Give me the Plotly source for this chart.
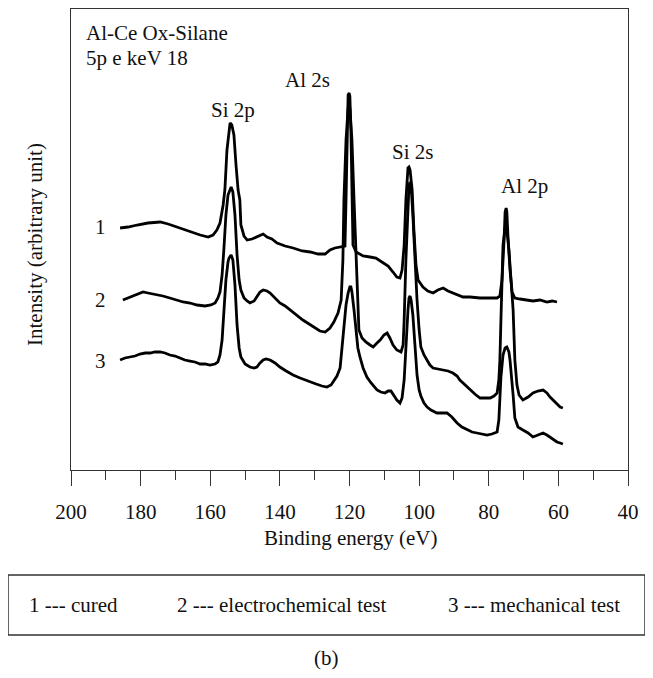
import plotly.graph_objects as go

# ---- data: binding energy (eV) and intensity (arbitrary units) ----
c1_energy = [185.9, 183.6, 181.0, 177.9, 174.4, 172.1, 169.6, 167.3, 165.0, 162.9, 160.6, 159.2, 158.1,
             157.2, 156.3, 155.8, 155.2, 154.6, 154.3, 153.8, 153.2, 152.6, 152.0, 151.5, 151.2, 150.3,
             149.4, 148.0, 146.6, 145.7, 144.8, 143.7, 142.3, 140.8, 138.5, 136.2, 133.6, 131.3, 129.0,
             127.0, 125.6, 124.2, 122.4, 121.3, 121.0, 120.7, 120.4, 120.1, 119.9, 119.6, 119.3, 119.0,
             118.1, 116.1, 114.1, 112.4, 110.7, 108.9, 107.5, 106.4, 105.5, 104.9, 104.3, 103.8, 103.2,
             102.9, 102.6, 102.0, 101.5, 100.9, 100.3, 98.9, 97.5, 96.0, 94.6, 93.1, 91.7, 90.3, 88.8,
             87.4, 85.4, 82.5, 79.6, 77.6, 76.8, 76.2, 75.6, 75.3, 75.0, 74.8, 74.5, 73.9, 73.3, 72.5,
             71.0, 69.0, 67.3, 65.3, 63.3, 61.8, 60.4]
c1_intensity = [242, 243, 245, 247, 248, 246, 243, 240, 237, 235, 233, 235, 240,
                247, 265, 280, 320, 340, 347, 345, 335, 305, 280, 270, 245, 234,
                230, 231, 233, 235, 236, 233, 231, 227, 224, 222, 219, 218, 216,
                216, 220, 222, 223, 224, 270, 340, 375, 377, 374, 340, 270, 225,
                218, 214, 213, 212, 208, 204, 198, 193, 192, 200, 225, 270, 302,
                303, 300, 280, 240, 205, 190, 183, 179, 177, 180, 182, 179, 177, 175,
                173, 173, 172, 172, 172, 174, 190, 230, 258, 262, 258, 235, 200, 178, 172,
                171, 170, 169, 170, 168, 169, 168]

c2_energy = [185.1, 183.6, 182.2, 180.8, 179.3, 177.9, 176.4, 175.0, 173.6, 171.6, 169.8, 167.8, 165.8,
             163.8, 161.5, 159.8, 158.6, 157.8, 157.2, 156.6, 156.1, 155.5, 154.9, 154.3, 154.0, 153.5,
             152.9, 152.3, 151.7, 151.2, 150.3, 149.4, 148.6, 147.4, 146.6, 145.7, 144.8, 143.7, 142.8,
             141.4, 140.0, 138.5, 137.1, 135.1, 133.4, 131.6, 129.9, 128.5, 127.0, 125.6, 124.5, 123.3,
             122.4, 121.9, 121.6, 121.0, 120.4, 120.1, 119.9, 119.3, 118.7, 118.1, 117.8, 117.3, 116.4,
             115.3, 114.1, 113.2, 112.1, 111.2, 110.1, 109.2, 108.4, 107.5, 106.4, 105.2, 104.6, 104.3,
             103.8, 103.2, 102.9, 102.6, 102.3, 101.8, 101.2, 100.6, 100.0, 99.5, 98.6, 97.7, 96.9,
             96.0, 94.6, 93.1, 91.7, 90.3, 89.1, 88.3, 86.8, 85.4, 84.0, 82.5, 81.1, 79.6, 78.5, 77.6,
             77.1, 76.8, 76.5, 76.2, 75.9, 75.3, 75.0, 74.8, 74.2, 73.6, 73.0, 72.7, 72.5, 71.9, 71.3,
             70.2, 68.7, 67.3, 65.9, 64.4, 63.3, 62.4, 61.0, 59.5, 58.7]
c2_intensity = [170, 172, 174, 176, 178, 177, 176, 175, 174, 172, 170, 168, 167,
                165, 164, 165, 167, 172, 178, 195, 220, 255, 275, 281, 283, 278,
                255, 215, 190, 180, 172, 169, 167, 169, 173, 178, 180, 179, 177,
                172, 167, 164, 160, 155, 150, 146, 142, 139, 138, 142, 148, 157,
                170, 210, 270, 330, 362, 365, 362, 330, 270, 210, 170, 140, 132,
                128, 125, 123, 127, 130, 135, 137, 132, 125, 120, 118, 125, 150,
                210, 265, 285, 288, 284, 255, 210, 170, 140, 123, 115, 110, 105,
                102, 101, 100, 99, 97, 94, 90, 85, 80, 76, 72, 72, 72, 74, 77,
                90, 110, 150, 190, 225, 242, 244, 240, 220, 190, 160, 130, 110, 85, 75,
                70, 73, 77, 79, 80, 77, 73, 68, 63, 62]

c3_energy = [185.9, 184.5, 183.1, 181.6, 180.2, 178.7, 177.3, 175.9, 174.4, 173.0, 171.6, 170.1, 168.7,
             167.3, 165.8, 164.4, 162.9, 161.5, 160.1, 158.6, 157.8, 157.2, 156.6, 156.1, 155.5, 154.9,
             154.6, 154.0, 153.5, 152.9, 152.3, 151.7, 151.2, 150.0, 148.6, 147.4, 146.6, 145.7, 144.8,
             144.0, 142.8, 141.4, 140.0, 138.2, 136.2, 134.2, 132.8, 131.3, 129.6, 127.9, 126.5, 125.3,
             124.5, 123.6, 122.7, 122.2, 121.6, 121.0, 120.4, 119.9, 119.6, 119.3, 118.7, 118.1, 117.6,
             117.0, 116.1, 115.0, 113.8, 112.1, 111.0, 109.8, 108.9, 108.1, 107.2, 106.4, 105.5, 104.9,
             104.3, 103.8, 103.2, 102.9, 102.6, 102.3, 101.8, 101.2, 100.6, 100.0, 99.5, 98.6, 97.7,
             96.6, 94.9, 93.4, 92.0, 90.6, 89.1, 87.7, 86.2, 84.8, 83.4, 81.9, 80.5, 79.1, 77.6, 77.1,
             76.8, 76.5, 75.9, 75.3, 74.8, 74.2, 73.9, 73.3, 73.0, 72.5, 71.6, 70.2, 68.7, 67.3, 65.9,
             64.4, 63.3, 62.4, 61.3, 60.4, 59.5, 58.7]
c3_intensity = [110, 112, 113, 114, 116, 117, 117, 118, 118, 117, 115, 114, 112,
                110, 109, 108, 106, 106, 105, 106, 108, 115, 130, 160, 190, 208,
                212, 215, 210, 185, 145, 122, 113, 106, 103, 102, 103, 107, 110,
                111, 110, 107, 103, 99, 95, 92, 90, 88, 86, 84, 83, 85,
                89, 94, 102, 120, 145, 165, 177, 183, 183, 178, 160, 137, 122,
                113, 102, 93, 87, 80, 78, 77, 79, 79, 74, 70, 67, 72,
                90, 125, 160, 172, 174, 170, 155, 125, 95, 80, 74, 67, 63,
                60, 57, 57, 57, 53, 47, 43, 40, 38, 37, 36, 35, 36, 38, 50,
                70, 93, 115, 122, 123, 118, 110, 90, 75, 52, 43, 40, 37, 33, 35,
                37, 35, 33, 30, 28, 27, 26]

series_names = ["1 --- cured", "2 --- electrochemical test", "3 --- mechanical test"]
curve_labels = ["1", "2", "3"]
peak_labels = ["Si 2p", "Al 2s", "Si 2s", "Al 2p"]
x_ticks = [200, 180, 160, 140, 120, 100, 80, 60, 40]

# ---- layout helpers (screen pixel -> paper); the page body adds an 8px offset ----
OFF = 8
W, H = 653 - OFF, 678 - OFF
L, R, T, B = 71 - OFF, 628 - OFF, 1, 470 - OFF


def px(x):
    return (x - OFF - L) / (R - L)


def py(y):
    return (B - (y - OFF)) / (B - T)


FONT = "Liberation Serif"
FS = 21
fig = go.Figure()
for xs, ys, nm in [(c1_energy, c1_intensity, series_names[0]),
                   (c2_energy, c2_intensity, series_names[1]),
                   (c3_energy, c3_intensity, series_names[2])]:
    fig.add_trace(go.Scatter(x=xs, y=ys, mode="lines", name=nm, showlegend=False,
                             line=dict(color="black", width=2.8)))

ann = []


def text(s, x, y, xa="center", ya="middle", size=FS, angle=0):
    ann.append(dict(text=s, x=px(x), y=py(y), xref="paper", yref="paper", xanchor=xa, yanchor=ya,
                    showarrow=False, textangle=angle, font=dict(family=FONT, size=size, color="#111")))


text("Al-Ce Ox-Silane", 84, 33, xa="left")
text("5p e keV 18", 84, 58, xa="left")
for lab, (x, y) in zip(peak_labels, [(233, 110), (307, 80), (412, 152), (524, 186)]):
    text(lab, x, y)
for lab, y in zip(curve_labels, [227, 300, 361]):
    text(lab, 100, y)
text("Intensity (arbitrary unit)", 35, 245, angle=-90)
text("Binding energy (eV)", 350, 538)
for lab, x in zip(series_names, [27, 175, 446]):
    text(lab, x, 605, xa="left")
text("(b)", 326, 658)

fig.update_layout(
    width=W, height=H,
    margin=dict(l=L, r=W - R, t=T, b=H - B, pad=0),
    paper_bgcolor="white", plot_bgcolor="white",
    font=dict(family=FONT, size=FS, color="#111"),
    annotations=ann,
    shapes=[dict(type="rect", xref="paper", yref="paper", x0=px(8), x1=px(645), y0=py(635), y1=py(575),
                 line=dict(color="#333", width=1.5))],
    xaxis=dict(range=[200, 40], showline=True, linecolor="#333", linewidth=1, mirror=True,
               ticks="outside", ticklen=15, tickwidth=1, tickcolor="#333",
               tickvals=x_ticks, ticktext=[str(v) for v in x_ticks],
               minor=dict(ticks="outside", ticklen=9, tickwidth=1, tickcolor="#333", dtick=10),
               showgrid=False, zeroline=False, ticklabelstandoff=8,
               tickfont=dict(family=FONT, size=FS, color="#111")),
    yaxis=dict(range=[0, 461], showline=True, linecolor="#333", linewidth=1, mirror=True,
               showticklabels=False, ticks="", showgrid=False, zeroline=False),
)
fig.write_html("out.html")
